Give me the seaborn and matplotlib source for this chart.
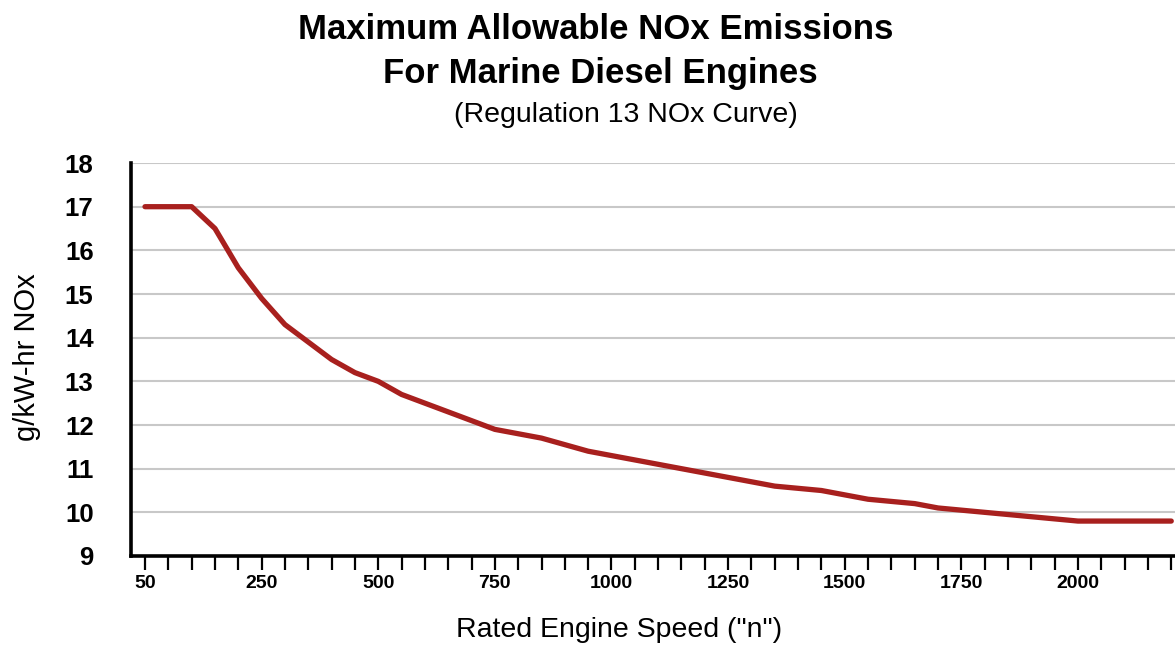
# Regulation 13 NOx curve - max allowable NOx vs rated engine speed

import pandas as pd
import seaborn as sns
import matplotlib.pyplot as plt

# Data
speeds = ['50', '100', '130', '150', '200', '250', '300', '350', '400', '450',
          '500', '550', '600', '650', '700', '750', '800', '850', '900', '950',
          '1000', '1050', '1100', '1150', '1200', '1250', '1300', '1350', '1400', '1450',
          '1500', '1550', '1600', '1650', '1700', '1750', '1800', '1850', '1900', '1950',
          '2000', '2050', '2100', '2150', '2200']
nox = [17.0, 17.0, 17.0, 16.5, 15.6, 14.9, 14.3, 13.9, 13.5, 13.2,
       13.0, 12.7, 12.5, 12.3, 12.1, 11.9, 11.8, 11.7, 11.55, 11.4,
       11.3, 11.2, 11.1, 11.0, 10.9, 10.8, 10.7, 10.6, 10.55, 10.5,
       10.4, 10.3, 10.25, 10.2, 10.1, 10.05, 10.0, 9.95, 9.9, 9.85,
       9.8, 9.8, 9.8, 9.8, 9.8]
labelled_speeds = ['50', '250', '500', '750', '1000', '1250', '1500', '1750', '2000']
y_ticks = [9, 10, 11, 12, 13, 14, 15, 16, 17, 18]

data = pd.DataFrame({'speed': speeds, 'nox': nox})

sns.set_style('white')
plt.rcParams['font.family'] = ['Liberation Sans', 'DejaVu Sans']
plt.rcParams['text.color'] = 'black'
plt.rcParams['axes.labelcolor'] = 'black'
plt.rcParams['xtick.color'] = 'black'
plt.rcParams['ytick.color'] = 'black'

fig = plt.figure(figsize=(11.75, 6.49), dpi=100)
ax = fig.add_axes([0.1115, 0.1433, 0.8885, 0.6055])

sns.lineplot(data=data, x='speed', y='nox', sort=False, color='#a8201e',
             linewidth=3.8, ax=ax, zorder=3)

# axis limits and ticks
ax.set_xlim(-0.6, 44.16)
ax.set_ylim(9, 18)
ax.set_yticks(y_ticks)
ax.set_yticklabels([str(v) for v in y_ticks], fontsize=18.5, fontweight='bold')
ax.set_xticks(range(len(speeds)))
ax.set_xticklabels([s if s in labelled_speeds else '' for s in speeds],
                   fontsize=14, fontweight='bold')
ax.tick_params(axis='x', bottom=True, length=10, width=1.6, colors='black',
               pad=3.5, direction='out')
ax.tick_params(axis='y', left=False, length=0, pad=27, colors='black')

ax.yaxis.grid(True, color='#c8c8c8', linewidth=1.5)
ax.xaxis.grid(False)
ax.set_axisbelow(True)

for side in ['top', 'right']:
    ax.spines[side].set_visible(False)
for side in ['left', 'bottom']:
    ax.spines[side].set_color('black')
    ax.spines[side].set_linewidth(2.6)
    ax.spines[side].set_zorder(4)

# axis labels
ax.set_xlabel('Rated Engine Speed ("n")', fontsize=20.5, color='black')
ax.xaxis.label.set_va('baseline')
ax.xaxis.set_label_coords(0.4674, -0.206)
ax.set_ylabel('g/kW-hr NOx', fontsize=21, color='black')
ax.yaxis.label.set_va('center')
ax.yaxis.set_label_coords(-0.0996, 0.506)

# titles
fig.text(0.507, 0.9399, 'Maximum Allowable NOx Emissions', ha='center', va='baseline',
         fontsize=25, fontweight='bold', color='black')
fig.text(0.511, 0.8721, 'For Marine Diesel Engines', ha='center', va='baseline',
         fontsize=25, fontweight='bold', color='black')
fig.text(0.533, 0.812, '(Regulation 13 NOx Curve)', ha='center', va='baseline',
         fontsize=20.5, color='black')

plt.savefig('out.png', dpi=100)
